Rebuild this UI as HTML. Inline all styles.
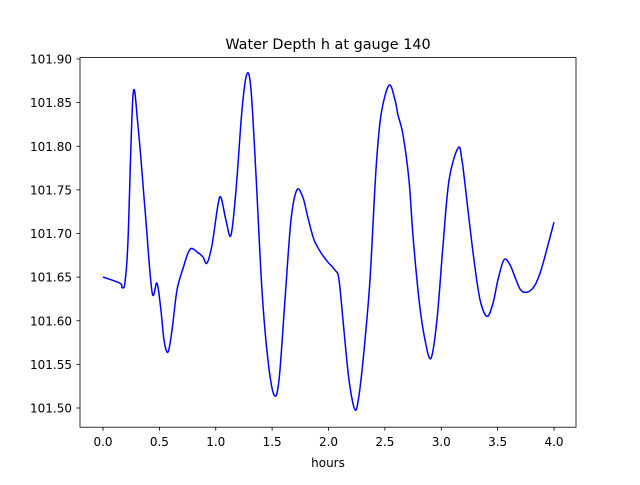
<!DOCTYPE html>
<html><head><meta charset="utf-8"><style>
html,body{margin:0;padding:0;background:#fff;}
svg text{font-family:"DejaVu Sans","Liberation Sans",sans-serif;}
</style></head><body>
<svg id="chart" width="640" height="480" viewBox="0 0 640 480">
<rect width="640" height="480" fill="#fff"/>
<text x="328" y="49" font-size="14.4" text-anchor="middle">Water Depth h at gauge 140</text>
<g id="xt"></g>
<g id="yt"></g>
<path id="line" fill="none" stroke="#0000ff" stroke-width="1.5"/>
<rect x="80" y="57.6" width="496" height="369.6" fill="none" stroke="#000" stroke-width="0.8"/>
<text x="328" y="467" font-size="12" text-anchor="middle">hours</text>
</svg>
<script>
const hours=[0,0.151,0.169,0.195,0.222,0.266,0.310,0.373,0.435,0.479,0.514,0.541,0.576,0.612,0.656,0.710,0.772,0.843,0.887,0.922,0.967,1.020,1.047,1.091,1.135,1.180,1.233,1.277,1.313,1.357,1.410,1.463,1.517,1.561,1.614,1.667,1.720,1.774,1.818,1.871,1.933,1.996,2.058,2.093,2.137,2.182,2.235,2.271,2.315,2.368,2.421,2.466,2.537,2.590,2.616,2.661,2.714,2.749,2.803,2.856,2.909,2.962,3.016,3.069,3.149,3.184,3.237,3.290,3.344,3.406,3.459,3.503,3.557,3.610,3.663,3.707,3.769,3.832,3.885,3.947,4.0];
const depth=[101.650,101.643,101.638,101.644,101.693,101.858,101.824,101.727,101.633,101.643,101.612,101.578,101.564,101.589,101.635,101.660,101.682,101.678,101.673,101.666,101.687,101.733,101.741,101.715,101.698,101.750,101.842,101.883,101.864,101.767,101.635,101.555,101.515,101.532,101.624,101.715,101.750,101.741,101.718,101.693,101.678,101.667,101.658,101.647,101.589,101.532,101.498,101.515,101.566,101.647,101.773,101.836,101.870,101.853,101.836,101.813,101.761,101.698,101.624,101.578,101.557,101.601,101.687,101.761,101.798,101.784,101.727,101.670,101.624,101.605,101.620,101.647,101.670,101.664,101.647,101.635,101.633,101.641,101.658,101.687,101.713];
const xTicks=[0,0.5,1,1.5,2,2.5,3,3.5,4];
const xTickLabels=["0.0","0.5","1.0","1.5","2.0","2.5","3.0","3.5","4.0"];
const yTicks=[101.5,101.55,101.6,101.65,101.7,101.75,101.8,101.85,101.9];
const yTickLabels=["101.50","101.55","101.60","101.65","101.70","101.75","101.80","101.85","101.90"];
const NS="http://www.w3.org/2000/svg";
const X=v=>103+v*112.75;
const Y=v=>59+(101.9-v)*872.5;
const xt=document.getElementById('xt'),yt=document.getElementById('yt');
xTicks.forEach((t,i)=>{
  const l=document.createElementNS(NS,'line');
  
  
  l.setAttribute('x1',X(t));l.setAttribute('x2',X(t));l.setAttribute('y1',427.2);l.setAttribute('y2',430.7);l.setAttribute('stroke','#000');l.setAttribute('stroke-width','0.8');
  xt.appendChild(l);
  const tx=document.createElementNS(NS,'text');
  
  
  tx.setAttribute('x',X(t));tx.setAttribute('y',446);tx.setAttribute('font-size','12');tx.setAttribute('text-anchor','middle');
  tx.textContent=xTickLabels[i];xt.appendChild(tx);
});
yTicks.forEach((t,i)=>{
  const l=document.createElementNS(NS,'line');
  
  
  l.setAttribute('x1',76.5);l.setAttribute('x2',80);l.setAttribute('y1',Y(t));l.setAttribute('y2',Y(t));l.setAttribute('stroke','#000');l.setAttribute('stroke-width','0.8');
  yt.appendChild(l);
  const tx=document.createElementNS(NS,'text');
  
  
  tx.setAttribute('x',72);tx.setAttribute('y',Y(t)+4.5);tx.setAttribute('font-size','12');tx.setAttribute('text-anchor','end');
  tx.textContent=yTickLabels[i];yt.appendChild(tx);
});
const pts=hours.map((h,i)=>[X(h),Y(depth[i])]);
let d='M'+pts[0][0]+','+pts[0][1];
for(let i=0;i<pts.length-1;i++){
  const p0=pts[Math.max(0,i-1)],p1=pts[i],p2=pts[i+1],p3=pts[Math.min(pts.length-1,i+2)];
  const c1=[p1[0]+(p2[0]-p0[0])/6,p1[1]+(p2[1]-p0[1])/6];
  const c2=[p2[0]-(p3[0]-p1[0])/6,p2[1]-(p3[1]-p1[1])/6];
  d+=' C'+c1[0].toFixed(2)+','+c1[1].toFixed(2)+' '+c2[0].toFixed(2)+','+c2[1].toFixed(2)+' '+p2[0].toFixed(2)+','+p2[1].toFixed(2);
}
document.getElementById('line').setAttribute('d',d);
</script>
</body></html>
